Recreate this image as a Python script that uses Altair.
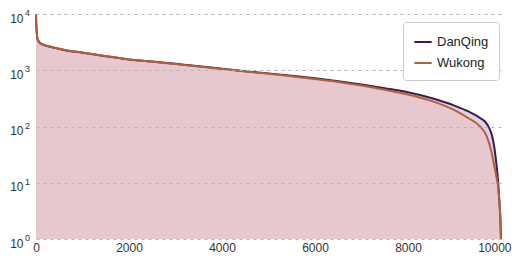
import altair as alt
import pandas as pd

series_names = ["DanQing", "Wukong"]
line_colors = ["#3f1a4a", "#b0603f"]
fill_colors = ["#ddd1e4", "#e6c8ce"]

ranks = [0, 5, 15, 30, 75, 150, 300, 600, 1000, 1500, 2000, 2500, 3000, 3500,
         4000, 4500, 5000, 5500, 6000, 6500, 7000, 7500, 8000, 8500, 9000,
         9300, 9550, 9700, 9800, 9850, 9900, 9940, 9970, 9990, 10000]

danqing = [10000, 7000, 4800, 3700, 3100, 2850, 2620, 2300, 2050, 1780, 1560,
           1430, 1300, 1180, 1060, 960, 880, 800, 720, 640, 560, 480, 405, 320,
           235, 185, 142, 110, 72, 46, 22, 10, 4, 2, 1]

wukong = [10000, 7000, 4800, 3700, 3150, 2880, 2640, 2320, 2060, 1790, 1560,
          1420, 1290, 1170, 1050, 950, 865, 780, 700, 620, 535, 450, 370, 285,
          195, 140, 100, 65, 34, 21, 13, 8, 4, 2, 1]

x_ticks = [0, 2000, 4000, 6000, 8000, 10000]
y_ticks = [1, 10, 100, 1000, 10000]
y_exponents = ["0", "1", "2", "3", "4"]

rows = []
for name, vals in zip(series_names, [danqing, wukong]):
    for r, v in zip(ranks, vals):
        rows.append({"series": name, "rank": r, "value": v})
df = pd.DataFrame(rows)
exp_df = pd.DataFrame({"value": y_ticks, "exp": y_exponents})

font = "Liberation Sans"

x_enc = alt.X("rank:Q", scale=alt.Scale(domain=[0, 10000], nice=False),
              axis=alt.Axis(values=x_ticks, format="d", ticks=False, domain=False,
                            grid=False, labelFlush=False, labelPadding=3,
                            labelAlign=alt.condition("datum.value == 10000",
                                                     alt.value("right"),
                                                     alt.value("center")),
                            labelOffset=alt.condition("datum.value == 10000",
                                                      alt.value(10),
                                                      alt.value(0)),
                            title=None, labelFont=font,
                            labelFontSize=12, labelColor="#333333"))
y_scale = alt.Scale(type="log", domain=[1, 10000], nice=False)
y_enc = alt.Y("value:Q", scale=y_scale,
              axis=alt.Axis(values=y_ticks, labelExpr="'10'", ticks=False,
                            domain=False, grid=True, gridDash=[3, 4],
                            gridColor="#b5b5b5", gridWidth=1, title=None,
                            labelFont=font, labelFontSize=12, labelColor="#333333",
                            labelPadding=13, labelOffset=4, zindex=1))

base = alt.Chart(df)

areas = []
for name, fc in zip(series_names, fill_colors):
    areas.append(
        base.transform_filter(alt.datum.series == name)
        .mark_area(color=fc, interpolate="monotone")
        .encode(x=x_enc, y=y_enc, y2=alt.Y2(datum=1))
    )

lines = base.mark_line(strokeWidth=2, interpolate="monotone").encode(
    x=x_enc, y=y_enc,
    color=alt.Color("series:N",
                    scale=alt.Scale(domain=series_names, range=line_colors),
                    legend=alt.Legend(title=None, orient="none", legendX=367,
                                      legendY=8,
                                      symbolType="stroke", symbolStrokeWidth=2,
                                      symbolSize=300, labelFont=font,
                                      labelFontSize=13, labelColor="#222222",
                                      fillColor="white", strokeColor="#cccccc",
                                      cornerRadius=3, padding=10, rowPadding=4,
                                      zindex=2)),
    detail="series:N",
)

exps = alt.Chart(exp_df).mark_text(
    align="left", baseline="middle", font=font, fontSize=9, color="#333333",
    dy=-1, clip=False,
).encode(
    x=alt.value(-11),
    y=alt.Y("value:Q", scale=y_scale),
    text="exp:N",
)

chart = alt.layer(*areas, lines, exps).properties(
    width=465, height=225,
    autosize=alt.AutoSizeParams(type="none"),
    padding={"left": 28, "top": 6, "right": 11, "bottom": 17},
).configure_view(stroke=None)

chart.save("out.html", embed_options={"renderer": "svg", "actions": False})
